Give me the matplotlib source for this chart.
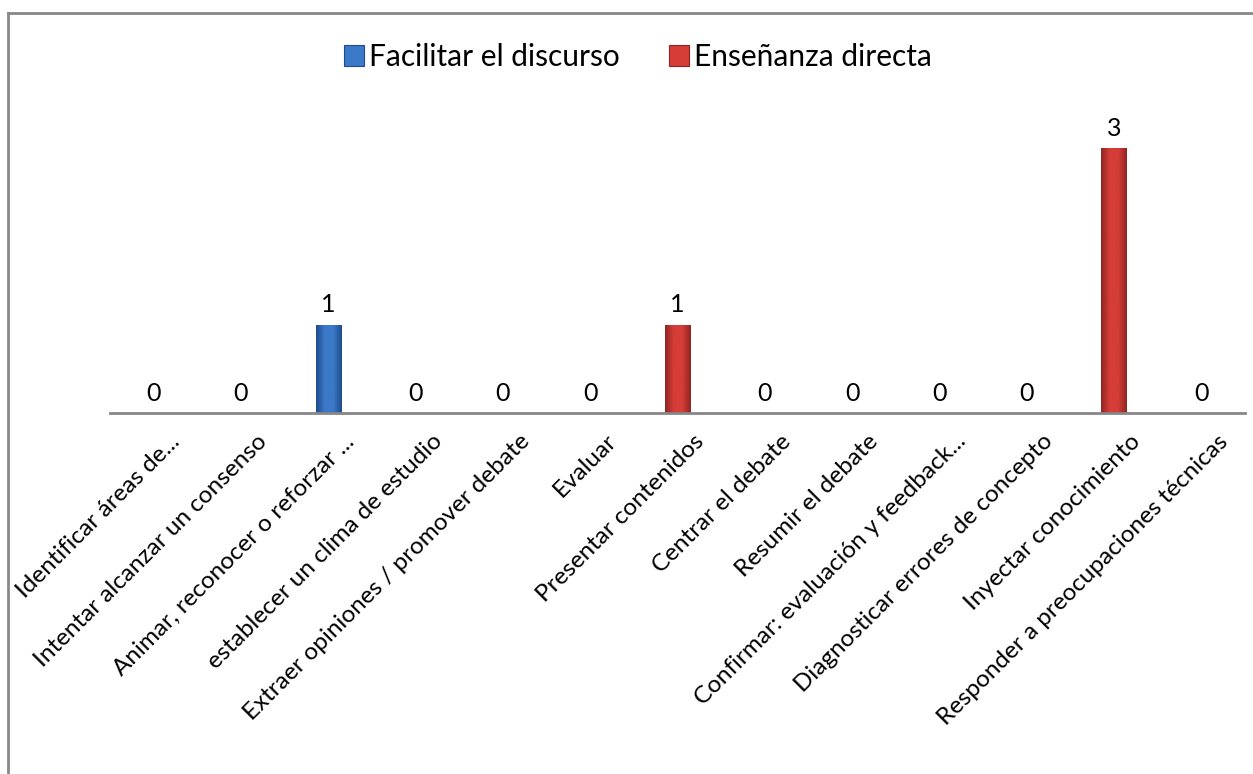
import matplotlib.pyplot as plt
import numpy as np
from matplotlib.colors import LinearSegmentedColormap
from matplotlib.lines import Line2D
from matplotlib.patches import Patch

plt.rcParams["font.family"] = ["Lato", "DejaVu Sans"]

categories = [
    "Identificar áreas de...",
    "Intentar alcanzar un consenso",
    "Animar, reconocer o reforzar ...",
    "establecer un clima de estudio",
    "Extraer opiniones / promover debate",
    "Evaluar",
    "Presentar contenidos",
    "Centrar el debate",
    "Resumir el debate",
    "Confirmar: evaluación y feedback...",
    "Diagnosticar errores de concepto",
    "Inyectar conocimiento",
    "Responder a preocupaciones técnicas",
]
facilitar_idx = [0, 1, 2, 3, 4, 5]
facilitar = [0, 0, 1, 0, 0, 0]
ensenanza_idx = [6, 7, 8, 9, 10, 11, 12]
ensenanza = [1, 0, 0, 0, 0, 3, 0]

series = [
    ("Facilitar el discurso", facilitar_idx, facilitar, "#3b79c9", "#1f4c8c"),
    ("Enseñanza directa", ensenanza_idx, ensenanza, "#d63d37", "#8f2522"),
]

W, H = 1253, 774
fig = plt.figure(figsize=(W / 100, H / 100), dpi=100)
ax = fig.add_axes([110 / W, 1 - 413 / H, 1135 / W, 353 / H])

bar_w = 0.29
for name, idx, vals, light, dark in series:
    bars = ax.bar(idx, vals, width=bar_w, color=light, zorder=2)
    # cylinder-like shading: dark edges, light middle
    cmap = LinearSegmentedColormap.from_list(name, [dark, light, light, dark])
    grad = np.linspace(0, 1, 64).reshape(1, -1)
    for b in bars:
        if b.get_height() <= 0:
            continue
        x0, y0 = b.get_x(), b.get_y()
        im = ax.imshow(grad, cmap=cmap, aspect="auto", zorder=3,
                       extent=[x0, x0 + b.get_width(), y0, y0 + b.get_height()])
        im.set_clip_path(b)
    ax.bar_label(bars, padding=6, fontsize=18, color="black")

ax.set_xlim(-0.5, len(categories) - 0.5)
ax.set_ylim(0, 4)
ax.set_yticks([])
ax.set_xticks(range(len(categories)))
ax.set_xticklabels([])
ax.tick_params(axis="x", length=0)
for s in ["top", "right", "left"]:
    ax.spines[s].set_visible(False)
ax.spines["bottom"].set_color("#868686")
ax.spines["bottom"].set_linewidth(2)
ax.spines["bottom"].set_zorder(4)

# rotated category labels, right end anchored just under each slot
for i, lab in enumerate(categories):
    x_px = 110 + (i + 0.5) * 1135 / len(categories) + 23
    y_px = 413 + 25
    fig.text(x_px / W, 1 - y_px / H, lab, rotation=45, rotation_mode="anchor",
             ha="right", va="center", fontsize=17.5)

handles = [Patch(facecolor=s[3], edgecolor=s[4], linewidth=0.8) for s in series]
fig.legend(handles, [s[0] for s in series], loc="center",
           bbox_to_anchor=(638 / W, 1 - 57 / H), ncol=2, frameon=False,
           fontsize=21.5, handlelength=0.67, handleheight=0.67,
           handletextpad=0.17, columnspacing=1.67)

# outer chart border (left and top edges)
border = dict(color="#888888", linewidth=2, transform=fig.transFigure)
fig.add_artist(Line2D([8 / W, 8 / W], [0, 1 - 13 / H], **border))
fig.add_artist(Line2D([8 / W, 1], [1 - 13 / H, 1 - 13 / H], **border))

fig.savefig("out.png", dpi=100)
